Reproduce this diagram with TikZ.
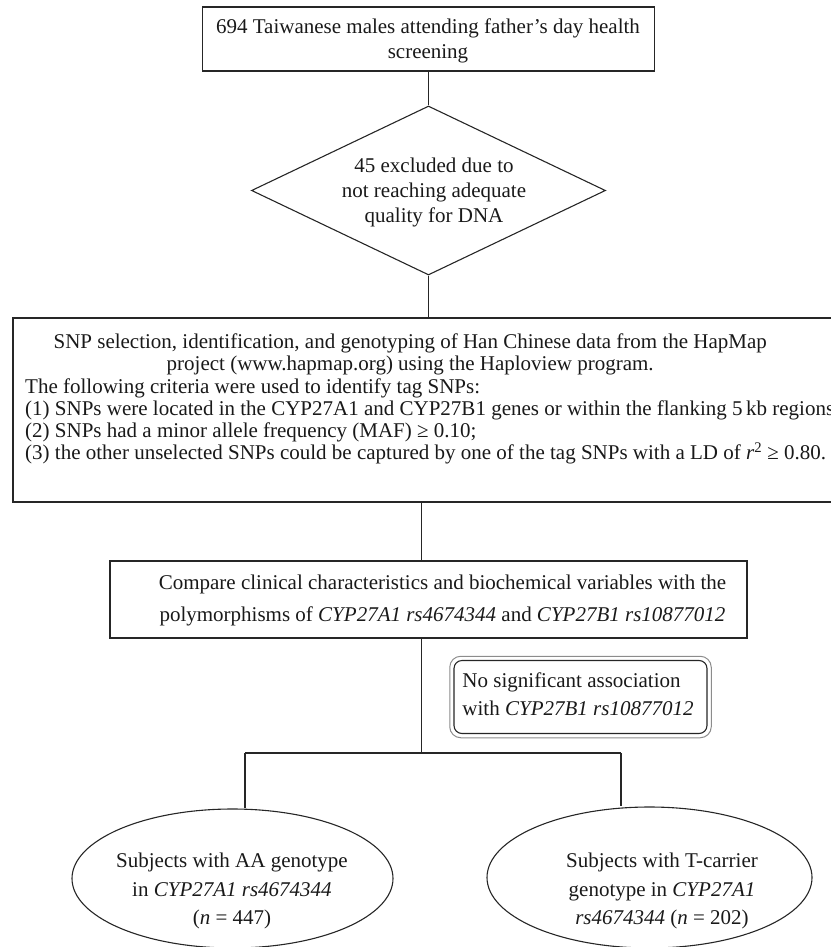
\documentclass[tikz,border=0pt]{standalone}
\usepackage{fontspec}
\setmainfont{Liberation Serif}
\usetikzlibrary{shapes.geometric}
\begin{document}
\begin{tikzpicture}[x=1pt, y=-1pt,
  line/.style={draw=black!85, line width=1.1pt},
  box/.style={line, rectangle, inner sep=0pt},
  txt/.style={inner sep=0pt, font=\fontsize{21}{25.5}\selectfont, text=black!90},
]
\useasboundingbox (0,0) rectangle (830,947);

% top box
\node[box, minimum width=452pt, minimum height=64pt] (top) at (428.5,39) {};
\node[txt, align=center] (toptext) at (428,40.9) {694 Taiwanese males attending father's day health\\screening};

% diamond
\node[line, diamond, minimum width=354pt, minimum height=169pt, inner sep=0pt] (dia) at (428.5,190.5) {};
\node[txt, font=\fontsize{21}{25}\selectfont, align=center] (diatext) at (434,192.2) {45 excluded due to\\not reaching adequate\\quality for DNA};

% SNP box
\node[box, minimum width=819pt, minimum height=184pt] (snp) at (422.5,410) {};
\node[txt, font=\fontsize{21}{22.2}\selectfont, align=left, anchor=north west] (snptext) at (25,333.7) {\makebox[770pt][c]{SNP selection, identification, and genotyping of Han Chinese data from the HapMap}\\
\makebox[770pt][c]{project (www.hapmap.org) using the Haploview program.}\\
The following criteria were used to identify tag SNPs:\\
(1) SNPs were located in the CYP27A1 and CYP27B1 genes or within the flanking 5\,kb regions\\
(2) SNPs had a minor allele frequency (MAF) ≥ 0.10;\\
(3) the other unselected SNPs could be captured by one of the tag SNPs with a LD of \textit{r}\textsuperscript{2} ≥ 0.80.};

% compare box
\node[box, minimum width=637pt, minimum height=77pt] (cmp) at (428.5,599.5) {};
\node[txt, font=\fontsize{21}{32.3}\selectfont, align=center] (cmptext) at (442.5,600.7) {Compare clinical characteristics and biochemical variables with the\\polymorphisms of \textit{CYP27A1 rs4674344} and \textit{CYP27B1 rs10877012}};

% no significant association box
\node[box, rounded corners=8pt, minimum width=253pt, minimum height=73pt] (nosig) at (580.5,697) {};
\draw[draw=black!45, line width=1pt, rounded corners=11pt] ([xshift=-3.7pt,yshift=3.7pt]nosig.north west) rectangle ([xshift=3.7pt,yshift=-3.7pt]nosig.south east);
\node[txt, font=\fontsize{21}{28.3}\selectfont, align=left] (nosigtext) at (578,694) {No significant association\\with \textit{CYP27B1 rs10877012}};

% ellipses
\node[line, ellipse, minimum width=321pt, minimum height=139pt, inner sep=0pt] (e1) at (232.5,878.5) {};
\node[line, ellipse, minimum width=325pt, minimum height=141pt, inner sep=0pt] (e2) at (649.5,877.5) {};
\node[txt, font=\fontsize{21}{28.4}\selectfont, align=center] (e1text) at (232,891.2) {Subjects with AA genotype\\in \textit{CYP27A1 rs4674344}\\(\textit{n} = 447)};
\node[txt, font=\fontsize{21}{28.4}\selectfont, align=center] (e2text) at (662,891.2) {Subjects with T-carrier\\genotype in \textit{CYP27A1}\\\textit{rs4674344} (\textit{n} = 202)};

% connectors
\coordinate (jx) at (421.5,753);
\coordinate (bl) at (245,753);
\coordinate (br) at (621,753);
\draw[line] (top.south) -- (dia.north);
\draw[line] (dia.south) -- (dia.south |- snp.north);
\draw[line] (snp.south -| jx) -- (cmp.north -| jx);
\draw[line] (cmp.south -| jx) -- (jx);
\draw[line] (bl) -- (br);
\draw[line] (bl) -- (bl |- e1.north);
\draw[line] (br) -- (br |- e2.north);
\end{tikzpicture}
\end{document}
